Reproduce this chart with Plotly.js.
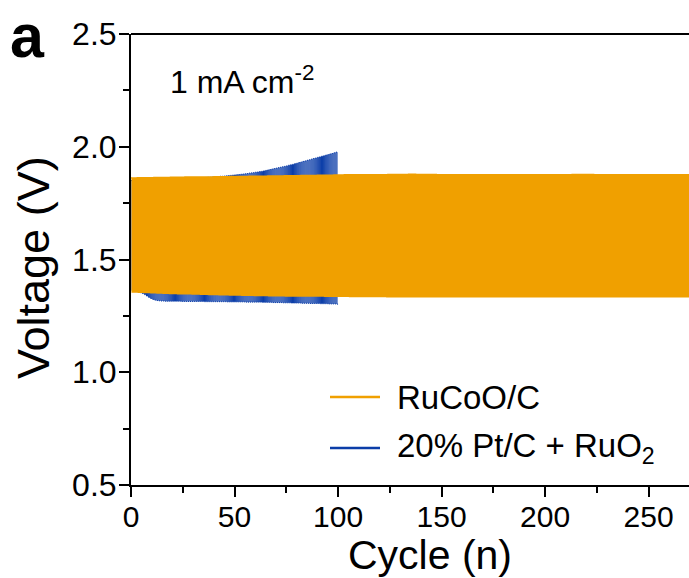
<!DOCTYPE html>
<html>
<head>
<meta charset="utf-8">
<script src="https://cdn.plot.ly/plotly-3.0.1.min.js"></script>
<style>
  html, body { margin: 0; padding: 0; background: #ffffff; }
  #chart { width: 689px; height: 578px; }
</style>
</head>
<body>
<div id="chart"></div>
<script>
// Galvanostatic charge/discharge cycling at 1 mA cm-2.
// Per-cycle plateau voltages (V): charge plateau and discharge plateau.

const rucooName = 'RuCoO/C';
const ptName = '20% Pt/C + RuO<sub>2</sub>';

const rucooCharge = [
  1.862,1.862,1.862,1.863,1.863,1.863,1.863,1.863,1.863,1.863,
  1.863,1.864,1.864,1.864,1.864,1.864,1.864,1.864,1.864,1.865,
  1.865,1.865,1.865,1.865,1.865,1.865,1.866,1.866,1.866,1.866,
  1.866,1.866,1.866,1.867,1.867,1.867,1.867,1.867,1.867,1.867,
  1.868,1.868,1.868,1.868,1.868,1.868,1.868,1.868,1.869,1.869,
  1.869,1.869,1.869,1.869,1.869,1.869,1.869,1.870,1.870,1.870,
  1.870,1.870,1.870,1.870,1.870,1.870,1.871,1.871,1.871,1.871,
  1.871,1.871,1.871,1.871,1.872,1.872,1.872,1.872,1.872,1.872,
  1.872,1.872,1.873,1.873,1.873,1.873,1.873,1.873,1.873,1.873,
  1.874,1.874,1.874,1.874,1.874,1.874,1.874,1.874,1.875,1.875,
  1.875,1.875,1.875,1.876,1.876,1.876,1.876,1.876,1.876,1.876,
  1.876,1.876,1.877,1.877,1.877,1.877,1.877,1.877,1.877,1.877,
  1.877,1.877,1.877,1.877,1.878,1.878,1.878,1.878,1.878,1.878,
  1.878,1.878,1.878,1.878,1.879,1.879,1.879,1.879,1.878,1.878,
  1.878,1.878,1.878,1.878,1.878,1.878,1.878,1.878,1.877,1.877,
  1.877,1.877,1.877,1.877,1.877,1.877,1.877,1.877,1.877,1.877,
  1.877,1.877,1.877,1.877,1.877,1.877,1.877,1.877,1.877,1.877,
  1.877,1.877,1.877,1.877,1.877,1.877,1.877,1.877,1.876,1.876,
  1.876,1.876,1.877,1.877,1.877,1.877,1.877,1.877,1.877,1.877,
  1.877,1.877,1.877,1.877,1.877,1.877,1.877,1.877,1.877,1.877,
  1.877,1.877,1.877,1.877,1.877,1.877,1.877,1.877,1.877,1.877,
  1.877,1.877,1.877,1.878,1.878,1.878,1.878,1.878,1.878,1.878,
  1.878,1.878,1.878,1.878,1.877,1.877,1.877,1.877,1.877,1.877,
  1.877,1.877,1.877,1.877,1.877,1.877,1.877,1.877,1.877,1.877,
  1.877,1.877,1.877,1.877,1.877,1.877,1.877,1.877,1.877,1.877,
  1.877,1.877,1.877,1.877,1.877,1.877,1.877,1.877,1.877,1.877,
  1.877,1.877,1.877,1.877,1.877,1.877,1.877,1.877,1.877,1.877
];

const rucooDischarge = [
  1.355,1.355,1.355,1.354,1.354,1.354,1.353,1.353,1.353,1.352,
  1.352,1.352,1.351,1.351,1.351,1.350,1.350,1.350,1.349,1.349,
  1.349,1.349,1.348,1.348,1.348,1.347,1.347,1.347,1.347,1.346,
  1.346,1.346,1.346,1.345,1.345,1.345,1.345,1.344,1.344,1.344,
  1.344,1.344,1.343,1.343,1.343,1.343,1.343,1.342,1.342,1.342,
  1.342,1.342,1.342,1.341,1.341,1.341,1.341,1.341,1.341,1.340,
  1.340,1.340,1.340,1.340,1.340,1.340,1.339,1.339,1.339,1.339,
  1.339,1.339,1.339,1.339,1.338,1.338,1.338,1.338,1.338,1.338,
  1.338,1.338,1.338,1.337,1.337,1.337,1.337,1.337,1.337,1.337,
  1.337,1.337,1.337,1.336,1.336,1.336,1.336,1.336,1.336,1.336,
  1.336,1.336,1.336,1.336,1.336,1.335,1.335,1.335,1.335,1.335,
  1.335,1.335,1.335,1.335,1.335,1.335,1.335,1.335,1.335,1.335,
  1.335,1.335,1.335,1.334,1.334,1.334,1.334,1.334,1.334,1.334,
  1.334,1.334,1.334,1.334,1.334,1.334,1.334,1.334,1.334,1.334,
  1.334,1.334,1.334,1.334,1.334,1.334,1.334,1.334,1.334,1.334,
  1.334,1.334,1.334,1.334,1.334,1.334,1.334,1.334,1.334,1.334,
  1.334,1.334,1.334,1.334,1.334,1.334,1.334,1.334,1.334,1.334,
  1.334,1.334,1.334,1.334,1.334,1.334,1.334,1.334,1.334,1.334,
  1.334,1.334,1.334,1.334,1.334,1.334,1.334,1.334,1.334,1.334,
  1.334,1.334,1.334,1.334,1.334,1.334,1.334,1.334,1.334,1.334,
  1.334,1.334,1.334,1.334,1.334,1.334,1.334,1.334,1.334,1.334,
  1.334,1.334,1.334,1.334,1.334,1.334,1.334,1.334,1.334,1.334,
  1.334,1.334,1.334,1.334,1.334,1.334,1.334,1.334,1.334,1.334,
  1.334,1.334,1.334,1.334,1.334,1.334,1.334,1.334,1.334,1.334,
  1.334,1.334,1.334,1.334,1.334,1.334,1.334,1.334,1.334,1.334,
  1.334,1.334,1.334,1.334,1.334,1.334,1.334,1.334,1.334,1.334,
  1.334,1.334,1.334,1.334,1.334,1.334,1.334,1.334,1.334,1.334
];

const ptCharge = [
  1.850,1.850,1.851,1.851,1.851,1.852,1.852,1.852,1.853,1.853,
  1.853,1.854,1.854,1.854,1.855,1.855,1.855,1.856,1.856,1.856,
  1.857,1.857,1.857,1.858,1.858,1.858,1.859,1.859,1.860,1.860,
  1.861,1.861,1.862,1.862,1.863,1.863,1.864,1.865,1.865,1.866,
  1.867,1.867,1.868,1.869,1.869,1.870,1.871,1.872,1.873,1.874,
  1.875,1.876,1.877,1.878,1.879,1.880,1.881,1.883,1.884,1.885,
  1.887,1.888,1.890,1.891,1.893,1.895,1.897,1.899,1.901,1.903,
  1.905,1.907,1.909,1.911,1.913,1.915,1.918,1.920,1.922,1.925,
  1.927,1.930,1.932,1.935,1.937,1.940,1.942,1.945,1.948,1.950,
  1.953,1.955,1.958,1.960,1.963,1.965,1.968,1.970,1.973,1.976
];

const ptDischarge = [
  1.362,1.360,1.358,1.356,1.353,1.349,1.344,1.338,1.332,1.327,
  1.323,1.320,1.318,1.317,1.316,1.316,1.315,1.315,1.315,1.315,
  1.315,1.315,1.315,1.315,1.314,1.314,1.314,1.314,1.314,1.314,
  1.314,1.314,1.314,1.314,1.314,1.313,1.313,1.313,1.313,1.313,
  1.313,1.313,1.313,1.313,1.313,1.313,1.312,1.312,1.312,1.312,
  1.312,1.312,1.312,1.312,1.312,1.311,1.311,1.311,1.311,1.311,
  1.311,1.311,1.311,1.310,1.310,1.310,1.310,1.310,1.309,1.309,
  1.309,1.309,1.309,1.308,1.308,1.308,1.308,1.307,1.307,1.307,
  1.307,1.307,1.306,1.306,1.306,1.306,1.305,1.305,1.305,1.305,
  1.305,1.304,1.304,1.304,1.304,1.303,1.303,1.303,1.303,1.302
];

const xTickVals = [0, 50, 100, 150, 200, 250];
const yTickVals = [0.5, 1.0, 1.5, 2.0, 2.5];

const COLOR_RUCOO = '#F0A000';
const COLOR_PT = '#0B3DA8';
const FONT = 'Liberation Sans, Arial, Helvetica, sans-serif';

// Each cycle: first half at the charge plateau, second half at the discharge plateau.
function cycleProfile(charge, discharge) {
  const x = [], y = [];
  for (let i = 0; i < charge.length; i++) {
    x.push(i, i + 0.5, i + 0.5, i + 1);
    y.push(charge[i], charge[i], discharge[i], discharge[i]);
  }
  return { x, y };
}

const ptProfile = cycleProfile(ptCharge, ptDischarge);
const rucooProfile = cycleProfile(rucooCharge, rucooDischarge);

const traces = [
  {
    type: 'scatter', mode: 'lines', name: ptName,
    x: ptProfile.x, y: ptProfile.y,
    line: { color: COLOR_PT, width: 1 },
    showlegend: false, hoverinfo: 'skip'
  },
  {
    type: 'scatter', mode: 'lines', name: rucooName,
    x: rucooProfile.x, y: rucooProfile.y,
    line: { color: COLOR_RUCOO, width: 1.2 },
    showlegend: false, hoverinfo: 'skip'
  }
];

// plot area in pixels
const M = { l: 131, r: 0, t: 34, b: 93 };
const W = 689, H = 578;
const PW = W - M.l - M.r, PH = H - M.t - M.b;
const px = v => (v - M.l) / PW;
const py = v => (H - M.b - v) / PH;

const layout = {
  width: W, height: H,
  margin: M,
  paper_bgcolor: '#ffffff', plot_bgcolor: '#ffffff',
  font: { family: FONT, color: '#000000' },
  showlegend: false,
  xaxis: {
    range: [0, 269.5],
    tickvals: xTickVals,
    ticktext: xTickVals.map(String),
    ticks: 'outside', ticklen: 10, tickwidth: 2, tickcolor: '#000',
    minor: { dtick: 25, tick0: 0, ticks: 'outside', ticklen: 6, tickwidth: 2, tickcolor: '#000' },
    showline: true, linewidth: 2, linecolor: '#000',
    showgrid: false, zeroline: false,
    ticklabelstandoff: -6,
    tickfont: { size: 30, family: FONT },
    title: { text: '' }
  },
  yaxis: {
    range: [0.5, 2.5],
    tickvals: yTickVals,
    ticktext: yTickVals.map(v => v.toFixed(1)),
    ticks: 'outside', ticklen: 10, tickwidth: 2, tickcolor: '#000',
    minor: { dtick: 0.25, tick0: 0.5, ticks: 'outside', ticklen: 6, tickwidth: 2, tickcolor: '#000' },
    showline: true, linewidth: 2, linecolor: '#000',
    showgrid: false, zeroline: false,
    ticklabelstandoff: -4,
    tickfont: { size: 32, family: FONT },
    title: { text: '' }
  },
  shapes: [
    // top frame line
    { type: 'line', xref: 'paper', yref: 'paper', x0: 0, x1: 1, y0: 1, y1: 1,
      line: { color: '#000', width: 2 } },
    // legend samples
    { type: 'line', xref: 'paper', yref: 'paper', x0: px(330), x1: px(380), y0: py(397), y1: py(397),
      line: { color: COLOR_RUCOO, width: 2.5 } },
    { type: 'line', xref: 'paper', yref: 'paper', x0: px(330), x1: px(380), y0: py(448), y1: py(448),
      line: { color: COLOR_PT, width: 2.5 } }
  ],
  annotations: [
    { text: 'Cycle (n)', xref: 'paper', yref: 'paper', x: px(430), y: py(555),
      xanchor: 'center', yanchor: 'middle', showarrow: false,
      font: { size: 41, family: FONT } },
    { text: 'Voltage (V)', xref: 'paper', yref: 'paper', x: px(33), y: py(268),
      xanchor: 'center', yanchor: 'middle', textangle: -90, showarrow: false,
      font: { size: 45, family: FONT } },
    { text: '<b>a</b>', xref: 'paper', yref: 'paper', x: px(8), y: py(0),
      xanchor: 'left', yanchor: 'top', showarrow: false,
      font: { size: 61, family: FONT } },
    { text: '1 mA cm<sup>-2</sup>', xref: 'paper', yref: 'paper', x: px(168), y: py(80),
      xanchor: 'left', yanchor: 'middle', showarrow: false,
      font: { size: 32, family: FONT } },
    { text: rucooName, xref: 'paper', yref: 'paper', x: px(395), y: py(397),
      xanchor: 'left', yanchor: 'middle', showarrow: false,
      font: { size: 33, family: FONT } },
    { text: ptName, xref: 'paper', yref: 'paper', x: px(395), y: py(448),
      xanchor: 'left', yanchor: 'middle', showarrow: false,
      font: { size: 33, family: FONT } }
  ]
};

Plotly.newPlot('chart', traces, layout, { staticPlot: true, displayModeBar: false });
</script>
</body>
</html>
